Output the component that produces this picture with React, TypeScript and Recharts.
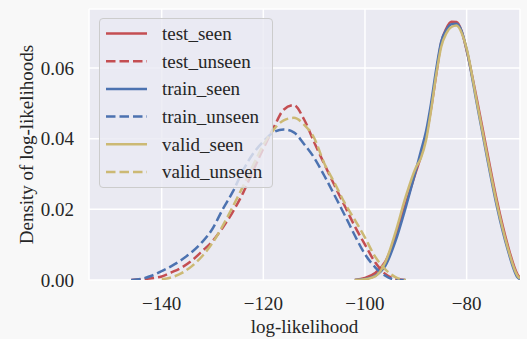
import React from 'react';
import { LineChart, Line, XAxis, YAxis, CartesianGrid, Legend } from 'recharts';

const seriesNames = ['test_seen', 'test_unseen', 'train_seen', 'train_unseen', 'valid_seen', 'valid_unseen'];
const seriesColors = ['#C44E52', '#C44E52', '#4C72B0', '#4C72B0', '#CCB974', '#CCB974'];
const seriesDashed = [false, true, false, true, false, true];

const xTicks = [-140, -120, -100, -80];
const yTicks = [0, 0.02, 0.04, 0.06];

const unseenX = [-146, -144, -142, -140, -138, -136, -134, -132, -130, -128, -126, -124, -122, -120, -118, -116, -114, -112, -110, -108, -106, -104, -102, -100, -98, -96, -94, -92];
const testUnseen = [0, 0.0002, 0.0005, 0.001, 0.0022, 0.0036, 0.0056, 0.0082, 0.011, 0.0148, 0.0193, 0.0246, 0.031, 0.0372, 0.043, 0.0482, 0.0495, 0.0455, 0.039, 0.0328, 0.0268, 0.021, 0.0152, 0.01, 0.005, 0.0017, 0.0003, 0];
const trainUnseen = [0, 0.0003, 0.0012, 0.0025, 0.004, 0.0058, 0.008, 0.0108, 0.0145, 0.02, 0.025, 0.031, 0.0358, 0.0392, 0.0418, 0.0426, 0.0418, 0.0385, 0.0346, 0.0295, 0.024, 0.0184, 0.0126, 0.0073, 0.0036, 0.0012, 0.0001, 0];
const validUnseen = [null, null, null, 0.0002, 0.0008, 0.002, 0.004, 0.0068, 0.0105, 0.0153, 0.0208, 0.0265, 0.0325, 0.0382, 0.0425, 0.0452, 0.0459, 0.044, 0.0402, 0.033, 0.0275, 0.0218, 0.017, 0.012, 0.0066, 0.003, 0.0008, 0];

const seenX = [-102, -100, -98, -96, -94, -92, -90, -89, -88, -87, -86, -85, -84, -83, -82, -81, -80, -78, -76, -74, -72, -70, -69.5];
const testSeen = [0, 0.0006, 0.002, 0.0052, 0.0122, 0.0215, 0.0305, 0.035, 0.0405, 0.0485, 0.058, 0.0672, 0.0712, 0.0731, 0.073, 0.0705, 0.065, 0.0512, 0.0365, 0.0222, 0.0103, 0.0016, 0.0006];
const trainSeen = [0, 0.0003, 0.0012, 0.004, 0.011, 0.0205, 0.031, 0.0365, 0.042, 0.05, 0.0595, 0.0675, 0.0708, 0.0724, 0.0725, 0.0705, 0.0652, 0.05, 0.0348, 0.0205, 0.009, 0.0008, 0.0002];
const validSeen = [0, 0.0002, 0.001, 0.005, 0.0135, 0.0235, 0.0318, 0.0345, 0.0395, 0.048, 0.058, 0.066, 0.0698, 0.0716, 0.072, 0.07, 0.0655, 0.0505, 0.0355, 0.0213, 0.0096, 0.0012, 0.0004];

const toPoints = (xs: number[], ys: (number | null)[]) => xs.map((x, i) => ({ x, y: ys[i] }));

const seriesData = [
  toPoints(seenX, testSeen),
  toPoints(unseenX, testUnseen),
  toPoints(seenX, trainSeen),
  toPoints(unseenX, trainUnseen),
  toPoints(seenX, validSeen),
  toPoints(unseenX, validUnseen),
];

const FONT = '"Liberation Serif", "DejaVu Serif", serif';
const TEXT = '#262626';
const DASH = '9.5 4';

const LegendBox = () => (
  <div
    style={{
      width: 174,
      height: 170,
      boxSizing: 'border-box',
      border: '1px solid #cccccc',
      borderRadius: 4,
      background: 'rgba(234,234,242,0.8)',
    }}
  >
    <svg width={172} height={168} style={{ display: 'block' }}>
      {seriesNames.map((name, i) => {
        const y = 14.5 + i * 27.7;
        return (
          <g key={name}>
            <line
              x1={6}
              x2={47}
              y1={y}
              y2={y}
              stroke={seriesColors[i]}
              strokeWidth={2.5}
              strokeDasharray={seriesDashed[i] ? DASH : undefined}
            />
            <text x={62} y={y} dy="0.34em" fontFamily={FONT} fontSize={19} fill={TEXT}>
              {name}
            </text>
          </g>
        );
      })}
    </svg>
  </div>
);

const fmtX = (v: number) => (v < 0 ? '\u2212' + Math.abs(v) : String(v));

export default function App() {
  return (
    <div style={{ position: 'absolute', left: 0, top: 0, width: 527, height: 339, background: '#f8f8f8' }}>
      <LineChart width={527} height={339} margin={{ top: 9, right: 7, bottom: 29, left: 29 }}>
        <CartesianGrid fill="#EAEAF2" stroke="#ffffff" strokeWidth={1.5} />
        <XAxis
          type="number"
          dataKey="x"
          domain={[-154.3, -69.5]}
          allowDataOverflow
          ticks={xTicks}
          tickFormatter={fmtX}
          axisLine={false}
          tickLine={false}
          tickSize={0}
          tickMargin={17}
          height={30}
          tick={{ fontFamily: FONT, fontSize: 19, fill: TEXT }}
          label={{
            content: () => (
              <text x={304.5} y={326} textAnchor="middle" dominantBaseline="central" fontFamily={FONT} fontSize={19} fill={TEXT}>
                log-likelihood
              </text>
            ),
          }}
        />
        <YAxis
          type="number"
          domain={[0, 0.0767]}
          allowDataOverflow
          ticks={yTicks}
          tickFormatter={(v: number) => v.toFixed(2)}
          axisLine={false}
          tickLine={false}
          tickSize={0}
          tickMargin={15}
          width={60}
          tick={{ fontFamily: FONT, fontSize: 19, fill: TEXT }}
          label={{
            content: () => (
              <text
                x={26}
                y={144.5}
                transform="rotate(-90 26 144.5)"
                textAnchor="middle"
                dominantBaseline="central"
                fontFamily={FONT}
                fontSize={19}
                fill={TEXT}
              >
                Density of log-likelihoods
              </text>
            ),
          }}
        />
        {seriesNames.map((name, i) => (
          <Line
            key={name}
            name={name}
            data={seriesData[i]}
            dataKey="y"
            type="monotone"
            stroke={seriesColors[i]}
            strokeWidth={2.5}
            strokeDasharray={seriesDashed[i] ? DASH : undefined}
            dot={false}
            activeDot={false}
            isAnimationActive={false}
          />
        ))}
        <Legend
          layout="horizontal"
          verticalAlign="middle"
          align="center"
          wrapperStyle={{ left: 99, top: 18, width: 174, height: 170 }}
          content={() => <LegendBox />}
        />
      </LineChart>
    </div>
  );
}
